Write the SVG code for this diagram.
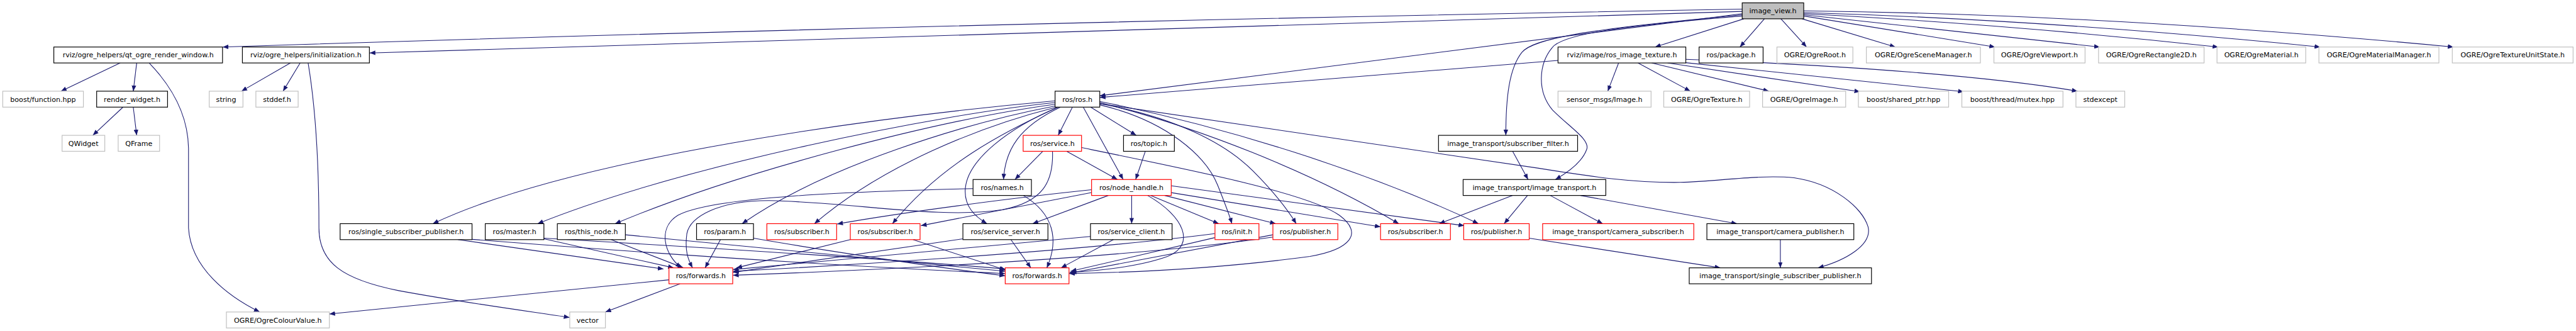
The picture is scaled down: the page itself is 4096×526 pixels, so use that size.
<svg xmlns="http://www.w3.org/2000/svg" width="4096" height="526" viewBox="0 0 4096 526">
<style>
.node rect{fill:#fff;stroke:#000;stroke-width:1.3}
.node.g rect{stroke:#bfbfbf}
.node.r rect{stroke:#ff0000}
.node.root rect{fill:#bfbfbf}
.node text{font-family:"DejaVu Sans","Liberation Sans",sans-serif;font-size:12.25px;text-anchor:middle;fill:#000}
#edges path{fill:none;stroke:#191970;stroke-width:1.2;marker-end:url(#arr)}
</style>
<defs>
<marker id="arr" markerUnits="userSpaceOnUse" viewBox="0 0 10 8" markerWidth="10" markerHeight="8" refX="10" refY="4" orient="auto">
<path d="M0,0 L10,4 L0,8 z" fill="#191970"/>
</marker>
</defs>
<rect width="4096" height="526" fill="#fff"/>
<g transform="scale(0.90559)">
<g id="edges">
<path d="M3059,16 Q1700,40 391,82.5"/>
<path d="M3059,20 L649,93"/>
<path d="M3059,24 L1931,168"/>
<path d="M3059,26 C2780,52 2692,68 2672,92 C2650,120 2644,170 2644,237.5"/>
<path d="M3059,28 C2850,45 2742,60 2725,84 C2702,112 2698,160 2726,193 C2758,225 2792,245 2786,262 C2778,285 2752,303 2731,315"/>
<path d="M3062,33 L2906,82.5"/>
<path d="M3098,33 L3055,82.5"/>
<path d="M3127,33 L3172,82.5"/>
<path d="M3164,33 L3328,82.5"/>
<path d="M3167,28 L3503,82.5"/>
<path d="M3167,26 L3687,82.5"/>
<path d="M3167,24 Q3520,42 3895,82.5"/>
<path d="M3167,22 Q3600,35 4074,82.5"/>
<path d="M3167,19 Q3700,25 4308,82.5"/>
<path d="M2736,106 L1931,171"/>
<path d="M2842,110.5 L2823,160"/>
<path d="M2876,110.5 L2968,160"/>
<path d="M2900,110.5 L3106,160"/>
<path d="M2928,110.5 L3266,161"/>
<path d="M2960,110 L3448,161"/>
<path d="M2960,104 C3250,115 3500,135 3648,160"/>
<path d="M2656,265.5 L2683,315"/>
<path d="M2656,343 L2527,392.5"/>
<path d="M2682,343 L2641,392.5"/>
<path d="M2722,343 L2814,392.5"/>
<path d="M2775,343 L3050,392.5"/>
<path d="M2685,418 L3021,470"/>
<path d="M3126,420.5 L3126,470"/>
<path d="M1931,182 L2700,295 C2800,311 2870,321 2950,320 C3020,318 3090,306 3150,312 C3220,322 3270,365 3280,398 C3288,430 3240,457 3192,470"/>
<path d="M1852.5,177 C1552,204 1010,274.5 760,392.5"/>
<path d="M1852.5,180 C1650,200 1200,290 944,392.5"/>
<path d="M1852.5,183 C1650,210 1300,300 1080,392.5"/>
<path d="M1852.5,186 C1700,215 1450,290 1303,392.5"/>
<path d="M1855,188 C1720,222 1550,290 1430,392.5"/>
<path d="M1858,188 C1760,232 1650,290 1567,392.5"/>
<path d="M1862,188 C1790,222 1765,262 1762,315"/>
<path d="M1858,188 C1770,225 1700,280 1695,330 C1692,362 1712,380 1733,392.5"/>
<path d="M1883,188 L1858,237.5"/>
<path d="M1902,188 L1972,315"/>
<path d="M1915,188 L1995,237.5"/>
<path d="M1931,184 C2050,212 2118,275 2138,325 C2150,355 2158,375 2163,392.5"/>
<path d="M1931,182 C2060,205 2150,250 2200,300 C2240,340 2262,370 2276,392.5"/>
<path d="M1931,180 C2100,222 2300,300 2456,392.5"/>
<path d="M1931,178 C2150,222 2400,300 2596,392.5"/>
<path d="M1831,265.5 L1782,315"/>
<path d="M1873,265.5 L1962,315"/>
<path d="M2011,265.5 L1994,315"/>
<path d="M1899,259 C2100,300 2300,340 2352,378 C2395,410 2370,438 2300,450 C2150,470 2000,478 1877,480"/>
<path d="M1848,265.5 C1850,320 1830,355 1760,368 C1650,385 1500,355 1350,352 C1262,352 1212,380 1206,410 C1202,440 1208,455 1216,470"/>
<path d="M1708.5,331 C1500,336 1250,345 1190,378 C1155,400 1165,445 1196,470"/>
<path d="M1797,343 C1850,375 1860,420 1838,470"/>
<path d="M1946,343 L1813,392.5"/>
<path d="M1987,343 L1987,392.5"/>
<path d="M2020,343 L2140,392.5"/>
<path d="M2045,343 L2240,392.5"/>
<path d="M2056.5,338 L2424,398"/>
<path d="M2056.5,326 L2571,396"/>
<path d="M2015,343 C2080,380 2100,430 2050,450 C2000,468 1930,475 1878,478"/>
<path d="M1916.6,338 L1617,396"/>
<path d="M1916.6,333 C1800,345 1600,370 1470,393"/>
<path d="M804,420.5 L1165,472"/>
<path d="M955,419 L1183,470"/>
<path d="M1073,420.5 L1200,470"/>
<path d="M1265,420.5 L1238,470"/>
<path d="M829,420 C1150,445 1500,468 1765,480"/>
<path d="M955,418 C1300,438 1600,458 1765,472"/>
<path d="M1098,412 L1765,476"/>
<path d="M1323,418 C1450,440 1650,470 1765,484"/>
<path d="M1493,420.5 L1293,470"/>
<path d="M1603,420.5 L1766,474"/>
<path d="M1691,419 L1287,478"/>
<path d="M1775,420.5 L1810,470"/>
<path d="M1915,415 L1287,473"/>
<path d="M1955,420.5 L1863,470"/>
<path d="M2133,410 C1900,440 1500,465 1287,476"/>
<path d="M2133,417 L1880,476"/>
<path d="M2235,412 L1880,479"/>
<path d="M2235,416 C2000,450 1600,472 1287,483"/>
<path d="M211,110.5 L107,160"/>
<path d="M240,110.5 L234,160"/>
<path d="M262,110.5 C300,150 330,200 331,260 L331,400 C335,470 400,520 456,547.5"/>
<path d="M216,188 L163,237.5"/>
<path d="M234,188 L240,237.5"/>
<path d="M510,110.5 L424,160"/>
<path d="M527,110.5 L497,160"/>
<path d="M541,110.5 C556,200 560,300 560,400 C560,460 600,490 700,510 C820,532 920,545 1000,557"/>
<path d="M1175,491 L578.3,551"/>
<path d="M1194,498 L1063,547.5"/>
</g>
<g id="n_image_view" class="node root"><rect x="3059" y="5" width="108" height="28"/><text x="3113" y="23.5">image_view.h</text></g>
<g id="n_qt" class="node"><rect x="94.5" y="82.5" width="296.2" height="28"/><text x="242.6" y="101">rviz/ogre_helpers/qt_ogre_render_window.h</text></g>
<g id="n_init" class="node"><rect x="425.6" y="82.5" width="223" height="28"/><text x="537.1" y="101">rviz/ogre_helpers/initialization.h</text></g>
<g id="n_rit" class="node"><rect x="2735.6" y="82.5" width="224.4" height="28"/><text x="2847.8" y="101">rviz/image/ros_image_texture.h</text></g>
<g id="n_pkg" class="node"><rect x="2983.3" y="82.5" width="112.4" height="28"/><text x="3039.5" y="101">ros/package.h</text></g>
<g id="n_ogreroot" class="node g"><rect x="3120" y="82.5" width="133.3" height="28"/><text x="3186.7" y="101">OGRE/OgreRoot.h</text></g>
<g id="n_scenemgr" class="node g"><rect x="3277" y="82.5" width="200.2" height="28"/><text x="3377.1" y="101">OGRE/OgreSceneManager.h</text></g>
<g id="n_viewport" class="node g"><rect x="3501" y="82.5" width="160" height="28"/><text x="3581" y="101">OGRE/OgreViewport.h</text></g>
<g id="n_rect2d" class="node g"><rect x="3684.7" y="82.5" width="185.3" height="28"/><text x="3777.4" y="101">OGRE/OgreRectangle2D.h</text></g>
<g id="n_material" class="node g"><rect x="3892.7" y="82.5" width="155.8" height="28"/><text x="3970.6" y="101">OGRE/OgreMaterial.h</text></g>
<g id="n_matmgr" class="node g"><rect x="4071.6" y="82.5" width="210.7" height="28"/><text x="4177" y="101">OGRE/OgreMaterialManager.h</text></g>
<g id="n_tus" class="node g"><rect x="4305.8" y="82.5" width="212.1" height="28"/><text x="4411.9" y="101">OGRE/OgreTextureUnitState.h</text></g>
<g id="n_bfunc" class="node g"><rect x="4.8" y="160" width="141.6" height="28"/><text x="75.6" y="178.5">boost/function.hpp</text></g>
<g id="n_rw" class="node"><rect x="169.7" y="160" width="124.5" height="28"/><text x="232" y="178.5">render_widget.h</text></g>
<g id="n_string" class="node g"><rect x="367.4" y="160" width="59.2" height="28"/><text x="397" y="178.5">string</text></g>
<g id="n_stddef" class="node g"><rect x="449.3" y="160" width="74.2" height="28"/><text x="486.4" y="178.5">stddef.h</text></g>
<g id="n_rosh" class="node"><rect x="1852.5" y="160" width="78.5" height="28"/><text x="1891.75" y="178.5">ros/ros.h</text></g>
<g id="n_sensor" class="node g"><rect x="2735.6" y="160" width="163.4" height="28"/><text x="2817.3" y="178.5">sensor_msgs/Image.h</text></g>
<g id="n_ogretex" class="node g"><rect x="2921.3" y="160" width="150.7" height="28"/><text x="2996.7" y="178.5">OGRE/OgreTexture.h</text></g>
<g id="n_ogreimg" class="node g"><rect x="3094.8" y="160" width="145.9" height="28"/><text x="3167.75" y="178.5">OGRE/OgreImage.h</text></g>
<g id="n_sptr" class="node g"><rect x="3263" y="160" width="158.5" height="28"/><text x="3342.25" y="178.5">boost/shared_ptr.hpp</text></g>
<g id="n_mutex" class="node g"><rect x="3444.7" y="160" width="177.5" height="28"/><text x="3533.45" y="178.5">boost/thread/mutex.hpp</text></g>
<g id="n_stdexcept" class="node g"><rect x="3645" y="160" width="85.7" height="28"/><text x="3687.85" y="178.5">stdexcept</text></g>
<g id="n_qwidget" class="node g"><rect x="109" y="237.5" width="75" height="28"/><text x="146.5" y="256">QWidget</text></g>
<g id="n_qframe" class="node g"><rect x="207.5" y="237.5" width="72.7" height="28"/><text x="243.85" y="256">QFrame</text></g>
<g id="n_service" class="node r"><rect x="1796.5" y="237.5" width="102.5" height="28"/><text x="1847.75" y="256">ros/service.h</text></g>
<g id="n_topic" class="node"><rect x="1972.7" y="237.5" width="89.3" height="28"/><text x="2017.35" y="256">ros/topic.h</text></g>
<g id="n_subfilter" class="node"><rect x="2525.8" y="237.5" width="244.2" height="28"/><text x="2647.9" y="256">image_transport/subscriber_filter.h</text></g>
<g id="n_names" class="node"><rect x="1708.5" y="315" width="102.5" height="28"/><text x="1759.75" y="333.5">ros/names.h</text></g>
<g id="n_nh" class="node r"><rect x="1916.6" y="315" width="139.9" height="28"/><text x="1986.55" y="333.5">ros/node_handle.h</text></g>
<g id="n_it" class="node"><rect x="2569" y="315" width="250.5" height="28"/><text x="2694.25" y="333.5">image_transport/image_transport.h</text></g>
<g id="n_rssp" class="node"><rect x="597.2" y="392.5" width="231.6" height="28"/><text x="713" y="411">ros/single_subscriber_publisher.h</text></g>
<g id="n_master" class="node"><rect x="852" y="392.5" width="103" height="28"/><text x="903.5" y="411">ros/master.h</text></g>
<g id="n_thisnode" class="node"><rect x="978.6" y="392.5" width="119.4" height="28"/><text x="1038.3" y="411">ros/this_node.h</text></g>
<g id="n_param" class="node"><rect x="1223" y="392.5" width="100" height="28"/><text x="1273" y="411">ros/param.h</text></g>
<g id="n_sub1" class="node r"><rect x="1346.5" y="392.5" width="122.5" height="28"/><text x="1407.75" y="411">ros/subscriber.h</text></g>
<g id="n_sub2" class="node r"><rect x="1493" y="392.5" width="122.5" height="28"/><text x="1554.25" y="411">ros/subscriber.h</text></g>
<g id="n_ssrv" class="node"><rect x="1690.7" y="392.5" width="149.3" height="28"/><text x="1765.35" y="411">ros/service_server.h</text></g>
<g id="n_sclient" class="node"><rect x="1914.7" y="392.5" width="143.3" height="28"/><text x="1986.35" y="411">ros/service_client.h</text></g>
<g id="n_inith" class="node r"><rect x="2133.3" y="392.5" width="77.2" height="28"/><text x="2171.9" y="411">ros/init.h</text></g>
<g id="n_pub1" class="node r"><rect x="2235" y="392.5" width="114" height="28"/><text x="2292" y="411">ros/publisher.h</text></g>
<g id="n_sub3" class="node r"><rect x="2424" y="392.5" width="122.7" height="28"/><text x="2485.35" y="411">ros/subscriber.h</text></g>
<g id="n_pub2" class="node r"><rect x="2570" y="392.5" width="115" height="28"/><text x="2627.5" y="411">ros/publisher.h</text></g>
<g id="n_camsub" class="node r"><rect x="2708.6" y="392.5" width="265.4" height="28"/><text x="2841.3" y="411">image_transport/camera_subscriber.h</text></g>
<g id="n_campub" class="node"><rect x="2997" y="392.5" width="258" height="28"/><text x="3126" y="411">image_transport/camera_publisher.h</text></g>
<g id="n_fwd1" class="node r"><rect x="1174.6" y="470" width="111.9" height="28"/><text x="1230.55" y="488.5">ros/forwards.h</text></g>
<g id="n_fwd2" class="node r"><rect x="1765" y="470" width="112" height="28"/><text x="1821" y="488.5">ros/forwards.h</text></g>
<g id="n_itssp" class="node"><rect x="2966" y="470" width="320" height="28"/><text x="3126" y="488.5">image_transport/single_subscriber_publisher.h</text></g>
<g id="n_colour" class="node g"><rect x="397.5" y="547.5" width="180.8" height="28"/><text x="487.9" y="566">OGRE/OgreColourValue.h</text></g>
<g id="n_vector" class="node g"><rect x="1000.4" y="547.5" width="62.6" height="28"/><text x="1031.7" y="566">vector</text></g>
</g>
</svg>
